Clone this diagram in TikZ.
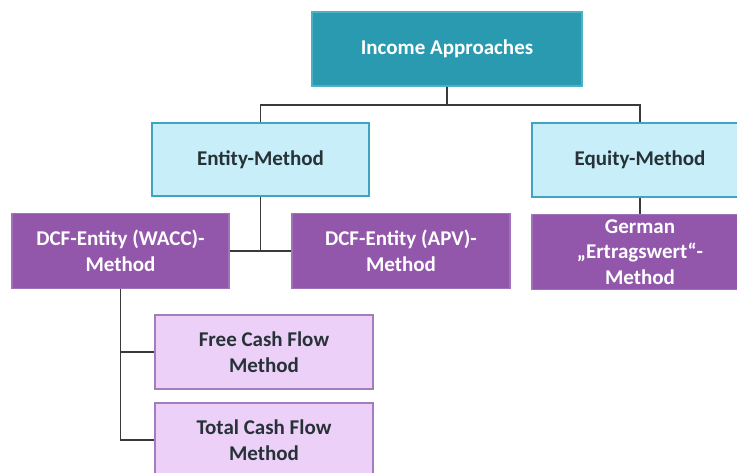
\documentclass[tikz,border=0pt]{standalone}
\usepackage{fontspec}
\setmainfont{Carlito}
\definecolor{teal1}{HTML}{2A9AB0}
\definecolor{teal2}{HTML}{4FB0C4}
\definecolor{lblue}{HTML}{C8EEF9}
\definecolor{lblueb}{HTML}{3EA5C0}
\definecolor{purp}{HTML}{9257AA}
\definecolor{purpb}{HTML}{A172BC}
\definecolor{lpurp}{HTML}{ECD0F7}
\definecolor{lpurpb}{HTML}{A47CC0}
\definecolor{darktxt}{HTML}{263238}
\definecolor{conn}{HTML}{3A3A3A}
\tikzset{
  box/.style={rectangle, inner sep=2pt, align=center, font=\bfseries\fontsize{21}{25.5}\selectfont, line width=1.2pt},
  topbox/.style={box, fill=teal1, draw=teal2, text=white},
  lvlone/.style={box, fill=lblue, draw=lblueb, text=darktxt},
  lvltwo/.style={box, fill=purp, draw=purpb, text=white},
  lvlthree/.style={box, fill=lpurp, draw=lpurpb, text=darktxt},
  conline/.style={draw=conn, line width=1.4pt}
}
\begin{document}
\begin{tikzpicture}[x=1pt,y=-1pt]
\clip (0,0) rectangle (737,473);
\fill[white] (0,0) rectangle (737,473);
\node[topbox, minimum width=270pt, minimum height=74pt] (inc) at (447,49) {Income Approaches};
\node[lvlone, minimum width=217pt, minimum height=73pt] (ent) at (260.5,159.5) {Entity-Method};
\node[lvlone, minimum width=216pt, minimum height=74pt] (eq) at (640,160) {Equity-Method};
\node[lvltwo, minimum width=217pt, minimum height=75pt] (wacc) at (120.5,251) {DCF-Entity (WACC)-\\Method};
\node[lvltwo, minimum width=218pt, minimum height=75pt] (apv) at (401,251) {DCF-Entity (APV)-\\Method};
\node[lvltwo, minimum width=216pt, minimum height=75pt] (ger) at (640,252) {German\\„Ertragswert“-\\Method};
\node[lvlthree, minimum width=218pt, minimum height=74pt] (fcf) at (264,352) {Free Cash Flow\\Method};
\node[lvlthree, minimum width=218pt, minimum height=74pt] (tcf) at (264,440) {Total Cash Flow\\Method};
\coordinate (hub) at (447,105);
\draw[conline] (inc.south) -- (hub);
\draw[conline] (ent.north) |- (hub) -| (eq.north);
\draw[conline] (ent.south) -- (ent.south |- wacc.east);
\draw[conline] (wacc.east) -- (apv.west);
\draw[conline] (eq.south) -- (ger.north);
\draw[conline] (wacc.south) |- (fcf.west);
\draw[conline] (wacc.south) |- (tcf.west);
\end{tikzpicture}
\end{document}
